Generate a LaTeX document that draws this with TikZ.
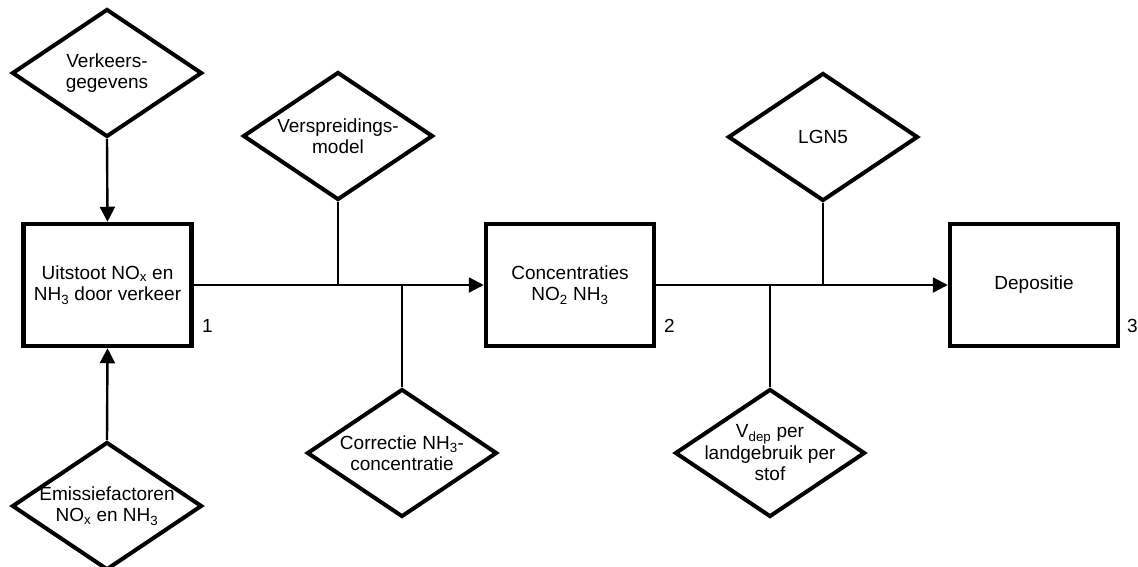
\documentclass[tikz,border=0pt]{standalone}
\usepackage{fontspec}
\setmainfont{Liberation Sans}
\usetikzlibrary{shapes.geometric,arrows.meta}

\begin{document}
\begin{tikzpicture}[x=1pt, y=-1pt,
	every node/.style={font=\fontsize{19}{21.5}\selectfont, align=center},
	stepbox/.style={draw, line width=4.5pt, rectangle, minimum width=168pt, minimum height=122pt, inner sep=0pt},
	inputbox/.style={draw, line width=4pt, diamond, minimum width=190pt, minimum height=128pt, inner sep=0pt},
	numtext/.style={anchor=base west, inner sep=0pt},
	flow/.style={line width=2.4pt},
	arrowflow/.style={flow, -{Triangle[length=15pt,width=15pt]}}]
		\clip (0,0) rectangle (1138,567);
		
		% Process steps
		\node[stepbox] (uitstoot) at (107.5,285) {Uitstoot NO\textsubscript{x} en\\NH\textsubscript{3} door verkeer};
		\node[stepbox] (conc) at (570,285) {Concentraties\\NO\textsubscript{2} NH\textsubscript{3}};
		\node[stepbox] (depo) at (1034,285) {Depositie};
		
		% Step numbers
		\node[numtext] (num1) at (202,332) {1};
		\node[numtext] (num2) at (664,332) {2};
		\node[numtext] (num3) at (1127,332) {3};
		
		% Inputs
		\node[inputbox, label={[align=center]center:Verkeers-\\gegevens}] (verkeer) at (107,73) {};
		\node[inputbox, label={[align=center]center:Emissiefactoren\\NO\textsubscript{x} en NH\textsubscript{3}}] (emissie) at (107,506) {};
		\node[inputbox, label={[align=center]center:Verspreidings-\\model}] (spread) at (338,136) {};
		\node[inputbox, label={[align=center]center:Correctie NH\textsubscript{3}-\\concentratie}] (correctie) at (402,453) {};
		\node[inputbox, label={[align=center]center:LGN5}] (lgn) at (823,137) {};
		\node[inputbox, label={[align=center]center:V\textsubscript{dep} per\\landgebruik per\\stof}] (vdep) at (770,453) {};
		
		% Arrows into the steps
		\draw[arrowflow] (verkeer.south) -- (uitstoot.north);
		\draw[arrowflow] (emissie.north) -- (uitstoot.south);
		\draw[arrowflow] (uitstoot.east) -- (conc.west);
		\draw[arrowflow] (conc.east) -- (depo.west);
		
		% Side inputs joining the flow
		\foreach \p in {spread,correctie,lgn,vdep}
		\draw[flow] (\p) -- (\p |- conc.west);
	\end{tikzpicture}
\end{document}
